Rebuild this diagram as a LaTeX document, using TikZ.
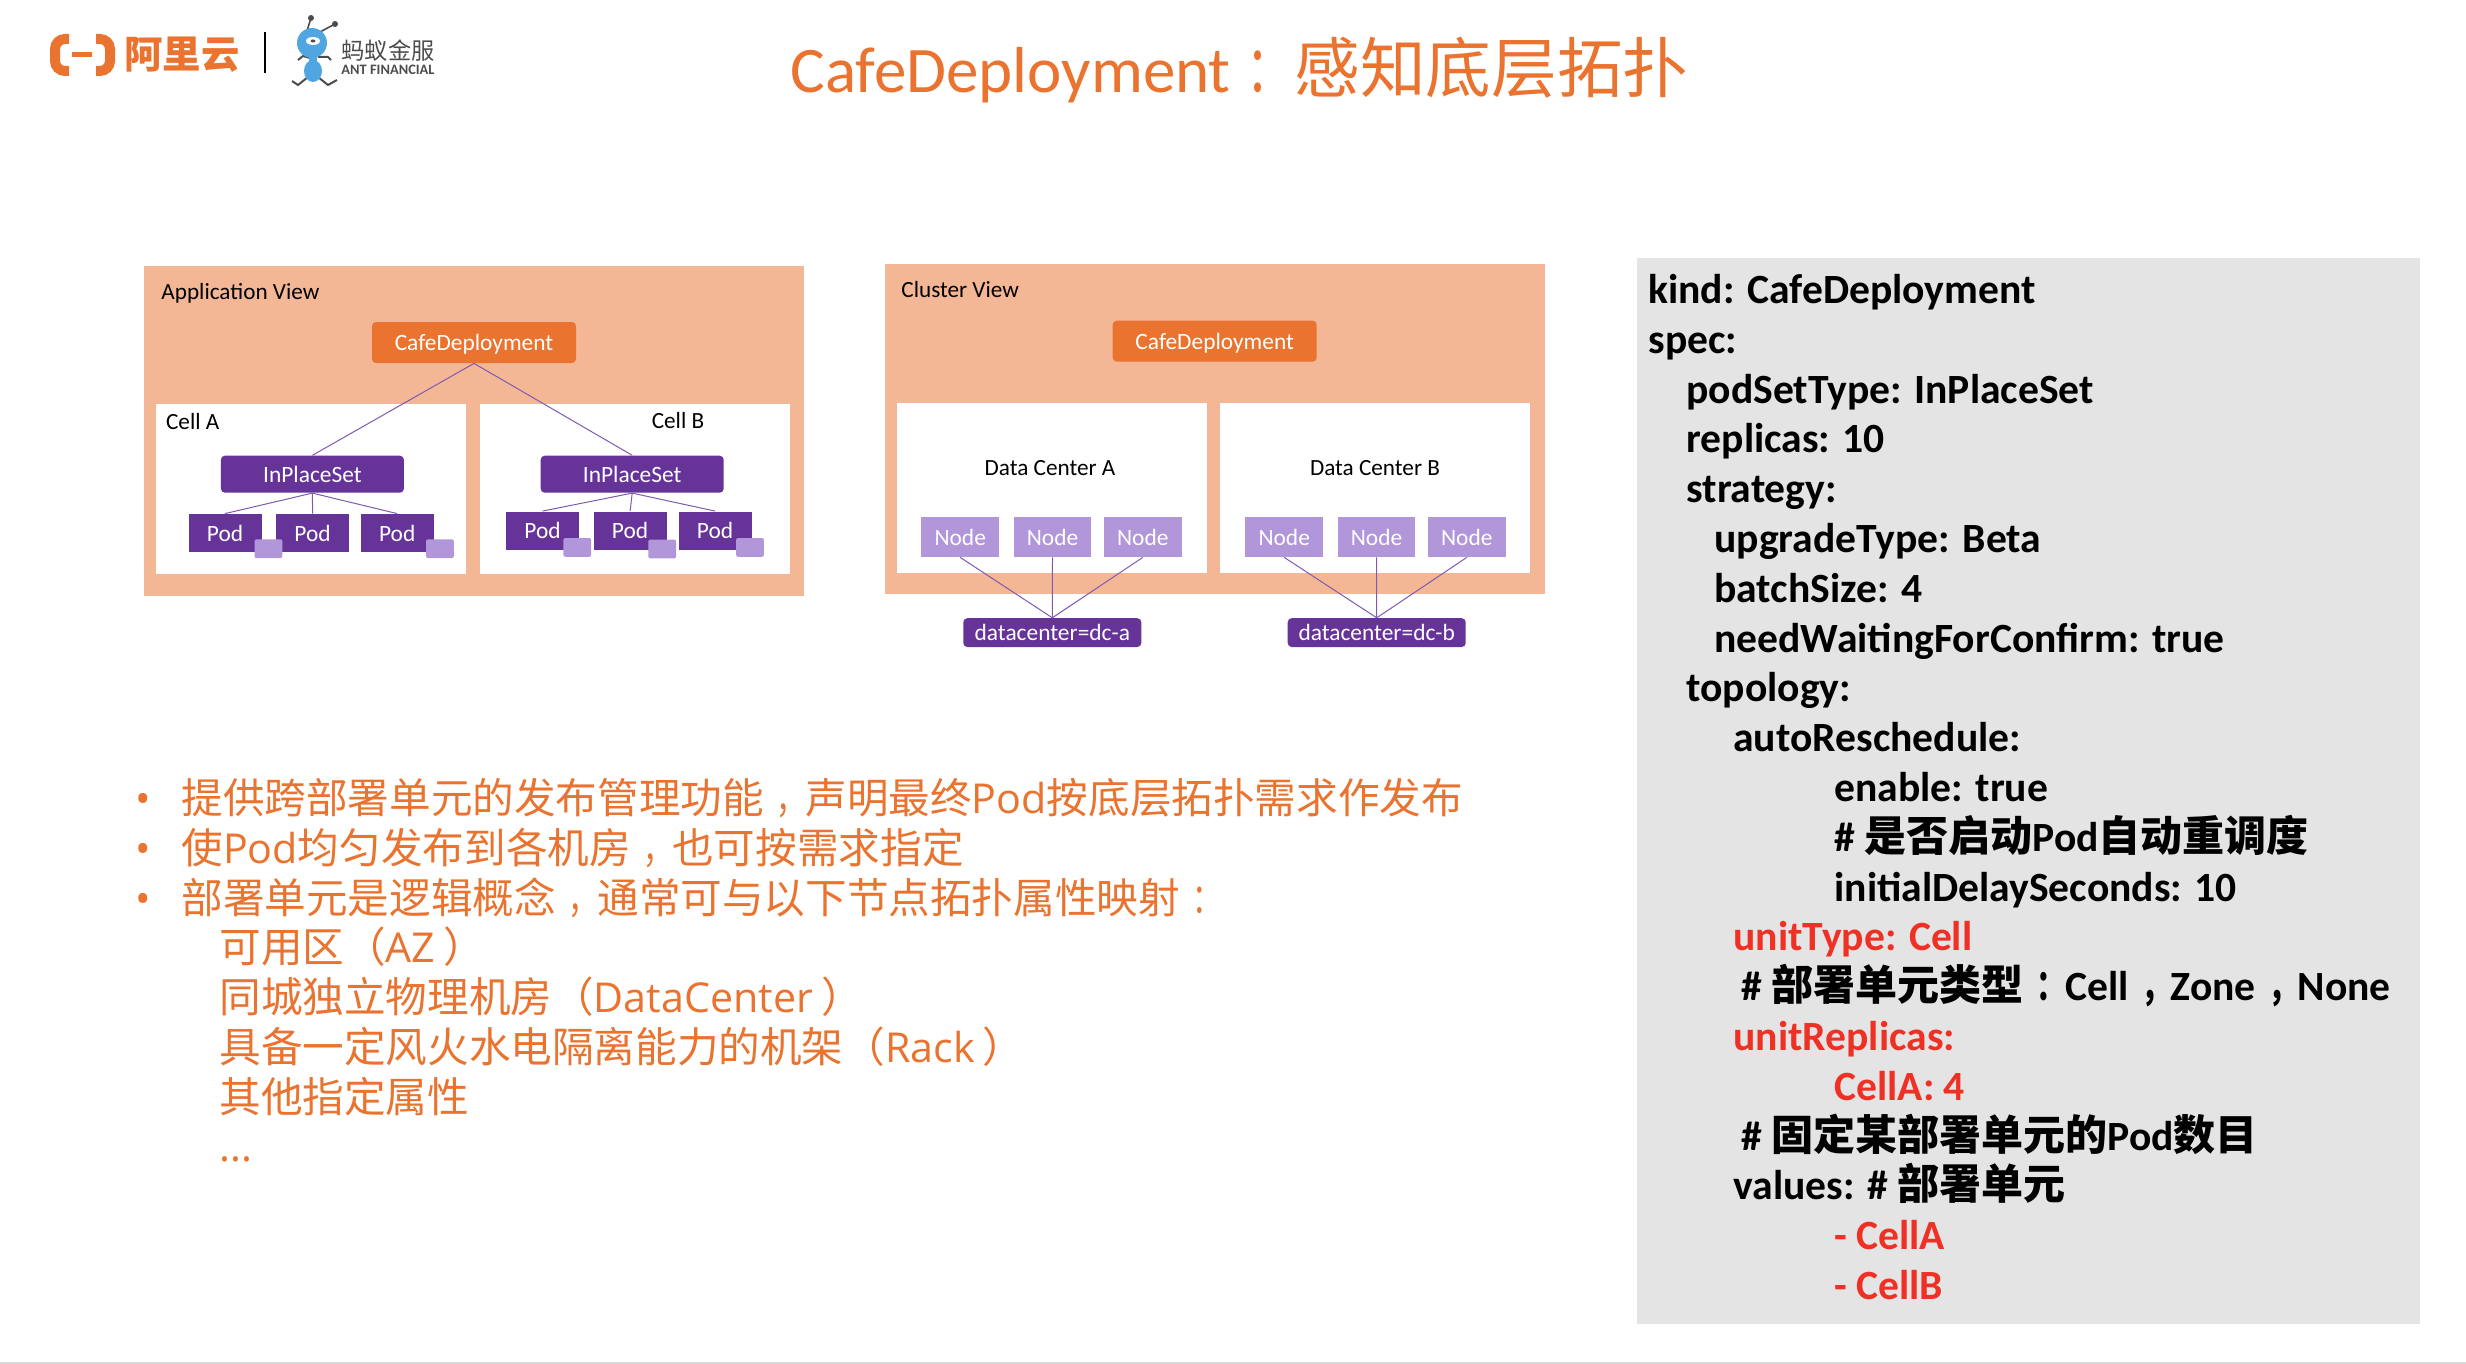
\documentclass[tikz,border=0pt]{standalone}
\usepackage{fontspec}
\setmainfont{Carlito}
\newfontfamily\cjk[Scale=1.01]{Noto Sans CJK SC}
\newfontfamily\cjkmark[Scale=1.01,FakeStretch=0.7]{Noto Sans CJK SC}
\newfontfamily\bulletlatin{Open Sans}
\usetikzlibrary{positioning}
\definecolor{cafeorange}{HTML}{E9732F}
\definecolor{panelorange}{HTML}{F3B795}
\definecolor{setpurple}{HTML}{663399}
\definecolor{softpurple}{HTML}{B197D9}
\definecolor{linkpurple}{HTML}{7E5BAF}
\definecolor{codegrey}{HTML}{E4E4E4}
\definecolor{codered}{HTML}{EE3124}
\definecolor{antblue}{HTML}{4FA6E0}
\newcommand{\zh}[1]{{\cjk #1}}
\newcommand{\zhmark}[1]{\hspace{.3em}{\cjkmark #1}}
\tikzset{
  panelbox/.style={fill=panelorange,inner sep=0pt,minimum width=330pt,minimum height=165pt},
  whitebox/.style={fill=white,inner sep=0pt,minimum width=155pt,minimum height=85pt},
  cafebox/.style={fill=cafeorange,rounded corners=2pt,inner sep=0pt,minimum width=102pt,
    minimum height=20.5pt,text=white,text height=10.5pt,text depth=2.5pt,font=\fontsize{11.7}{14}\selectfont},
  setbox/.style={fill=setpurple,rounded corners=2pt,inner sep=0pt,minimum width=91.5pt,
    minimum height=18.5pt,text=white,font=\fontsize{11.7}{14}\selectfont},
  podbox/.style={fill=setpurple,inner sep=0pt,minimum width=36.5pt,minimum height=19pt,
    text=white,font=\fontsize{11.7}{14}\selectfont},
  tagbox/.style={fill=softpurple,rounded corners=1pt,inner sep=0pt,minimum width=13.9pt,minimum height=9.4pt},
  nodebox/.style={fill=softpurple,inner sep=0pt,minimum width=38.75pt,minimum height=20pt,
    text=white,font=\fontsize{11.7}{14}\selectfont},
  dcbox/.style={fill=setpurple,rounded corners=2pt,inner sep=0pt,minimum width=89pt,
    minimum height=14.4pt,text=white,text height=10pt,text depth=2.5pt,font=\fontsize{11.7}{14}\selectfont},
  viewlabel/.style={inner sep=0pt,font=\fontsize{11.6}{14}\selectfont},
  link/.style={draw=linkpurple,line width=0.5pt},
  bullettext/.style={anchor=base west,inner sep=0pt,text=cafeorange,font=\bulletlatin\fontsize{20.6}{24}\selectfont},
  codeline/.style={anchor=base west,inner sep=0pt,font=\bfseries\fontsize{20.8}{24}\selectfont},
  coderedline/.style={codeline,text=codered}
}
\begin{document}
\begin{tikzpicture}[x=0.5pt,y=-0.5pt]
\useasboundingbox (0,0) rectangle (2466,1364);
\fill[black!15] (0,1362) rectangle (2466,1364);
% logos
\draw[cafeorange,line width=5pt,rounded corners=5pt] (69,39)--(55,39)--(55,71)--(69,71);
\draw[cafeorange,line width=5pt,rounded corners=5pt] (96,39)--(110,39)--(110,71)--(96,71);
\fill[cafeorange] (72,52.5) rectangle (92,57);
\node[inner sep=0pt,text=cafeorange,font=\cjk\bfseries\fontsize{19}{22}\selectfont] (aliyun) at (182,55) {阿里云};
\draw[black,line width=1pt] (264.5,32)--(264.5,73);
\draw[black!70,line width=0.8pt] (306,34)--(311,18);
\draw[black!70,line width=0.8pt] (320,32)--(335,24);
\fill[black!70] (311,18) circle (3) (335,24) circle (3);
\draw[black!70,line width=1pt] (310,58)--(303,56)--(298,60);
\draw[black!70,line width=1pt] (318,57)--(328,57)--(331,60);
\draw[black!70,line width=1pt] (308,77)--(298,85)--(292,81);
\draw[black!70,line width=1pt] (318,77)--(328,85)--(337,80);
\fill[antblue] (312,43) ellipse (15 and 15);
\fill[antblue] (309,50) rectangle (317,66);
\fill[antblue] (313,71) ellipse (9 and 11);
\fill[white] (313,41) ellipse (7 and 4);
\fill[black!70] (313,41) ellipse (2.5 and 1.5);
\node[inner sep=0pt,text=black!70,font=\cjk\fontsize{11.5}{13}\selectfont] (antzh) at (388,51) {蚂蚁金服};
\node[inner sep=0pt,text=black!70,font=\bfseries\fontsize{7.2}{8}\selectfont] (anten) at (388,70) {ANT FINANCIAL};
% title
\node[inner sep=0pt,anchor=base west,text=cafeorange,font=\fontsize{32.5}{38}\selectfont] (title) at (790,93)
  {CafeDeployment\hspace{8pt}{\cjkmark ：}\hspace{1pt}\zh{感知底层拓扑}};
% application view
\node[panelbox] (appview) at (474,430.7) {};
\node[whitebox] (cella) at (311,489.3) {};
\node[whitebox] (cellb) at (635.2,489.3) {};
\node[viewlabel,anchor=west] (applabel) at (161,293.5) {Application View};
\node[viewlabel,anchor=west] (cellalabel) at (165.7,421.7) {Cell A};
\node[viewlabel,anchor=west] (cellblabel) at (651.4,420.7) {Cell B};
\node[cafebox] (cafeapp) at (474,342.5) {CafeDeployment};
\node[setbox] (seta) at (312.4,474.2) {InPlaceSet};
\node[setbox] (setb) at (632.2,474.2) {InPlaceSet};
\node[podbox] (poda1) at (225,533) {Pod};
\node[podbox,right=6.9pt of poda1] (poda2) {Pod};
\node[podbox,right=5.4pt of poda2] (poda3) {Pod};
\node[podbox] (podb1) at (542.5,530.5) {Pod};
\node[podbox,right=6.9pt of podb1] (podb2) {Pod};
\node[podbox,right=5.6pt of podb2] (podb3) {Pod};
\node[tagbox] (taga1) at (268.4,548.7) {};
\node[tagbox] (taga3) at (439.9,548.7) {};
\node[tagbox] (tagb1) at (577.3,547.4) {};
\node[tagbox] (tagb2) at (662.2,549) {};
\node[tagbox] (tagb3) at (750,547.4) {};
\draw[link] (cafeapp.south)--(seta.north);
\draw[link] (cafeapp.south)--(setb.north);
\draw[link] (seta.south)--(poda1.north);
\draw[link] (seta.south)--(poda2.north);
\draw[link] (seta.south)--(poda3.north);
\draw[link] (setb.south)--(podb1.north);
\draw[link] (setb.south)--(podb2.north);
\draw[link] (setb.south)--(podb3.north);
% cluster view
\node[panelbox] (clusterview) at (1214.5,429.4) {};
\node[whitebox] (dca) at (1051.9,488.2) {};
\node[whitebox] (dcb) at (1375.1,488.2) {};
\node[viewlabel,anchor=west] (clusterlabel) at (901,290) {Cluster View};
\node[cafebox] (cafecluster) at (1214.7,341.2) {CafeDeployment};
\node[viewlabel] (dcalabel) at (1050,468) {Data Center A};
\node[viewlabel] (dcblabel) at (1375,468) {Data Center B};
\node[nodebox] (nodea1) at (960.2,537) {Node};
\node[nodebox,right=7pt of nodea1] (nodea2) {Node};
\node[nodebox,right=6pt of nodea2] (nodea3) {Node};
\node[nodebox] (nodeb1) at (1284.2,537) {Node};
\node[nodebox,right=7pt of nodeb1] (nodeb2) {Node};
\node[nodebox,right=6pt of nodeb2] (nodeb3) {Node};
\node[dcbox] (dctaga) at (1052.3,632.6) {datacenter=dc-a};
\node[dcbox] (dctagb) at (1376.7,632.6) {datacenter=dc-b};
\draw[link] (nodea1.south)--(dctaga.north);
\draw[link] (nodea2.south)--(dctaga.north);
\draw[link] (nodea3.south)--(dctaga.north);
\draw[link] (nodeb1.south)--(dctagb.north);
\draw[link] (nodeb2.south)--(dctagb.north);
\draw[link] (nodeb3.south)--(dctagb.north);
% bullets
\node[bullettext] (bullet1) at (135,813) {•};
\node[bullettext] (bullet2) at (135,863) {•};
\node[bullettext] (bullet3) at (135,913) {•};
\node[bullettext] (text1) at (181,813) {\zh{提供跨部署单元的发布管理功能}\zhmark{，}\zh{声明最终}Pod\zh{按底层拓扑需求作发布}};
\node[bullettext] (text2) at (181,863) {\zh{使}Pod\zh{均匀发布到各机房}\zhmark{，}\zh{也可按需求指定}};
\node[bullettext] (text3) at (181,913) {\zh{部署单元是逻辑概念}\zhmark{，}\zh{通常可与以下节点拓扑属性映射}\zhmark{：}};
\node[bullettext] (sub1) at (219,962) {\zh{可用区（}AZ\hspace{4pt}\zh{）}};
\node[bullettext] (sub2) at (219,1012.5) {\zh{同城独立物理机房（}DataCenter\hspace{4pt}\zh{）}};
\node[bullettext] (sub3) at (219,1062.5) {\zh{具备一定风火水电隔离能力的机架（}Rack\hspace{4pt}\zh{）}};
\node[bullettext] (sub4) at (219,1112.5) {\zh{其他指定属性}};
\node[bullettext] (sub5) at (219,1161) {...};
% yaml
\fill[codegrey] (1637,258) rectangle (2420,1324);
\node[codeline] (kind) at (1648,303) {kind: CafeDeployment};
\node[codeline] (spec) at (1648,353) {spec:};
\node[codeline] (podsettype) at (1686,403) {podSetType: InPlaceSet};
\node[codeline] (replicas) at (1686,452) {replicas: 10};
\node[codeline] (strategy) at (1686,502) {strategy:};
\node[codeline] (upgradetype) at (1714,552) {upgradeType: Beta};
\node[codeline] (batchsize) at (1714,602) {batchSize: 4};
\node[codeline] (needwaiting) at (1714,652) {needWaitingForConfirm: true};
\node[codeline] (topology) at (1686,701) {topology:};
\node[codeline] (autoresched) at (1733,751) {autoReschedule:};
\node[codeline] (enable) at (1834,801) {enable: true};
\node[codeline] (enablenote) at (1834,851) {\# \zh{是否启动}Pod\zh{自动重调度}};
\node[codeline] (initialdelay) at (1834,901) {initialDelaySeconds: 10};
\node[coderedline] (unittype) at (1733,950) {unitType: Cell};
\node[codeline] (unitnote) at (1741,1000) {\# \zh{部署单元类型}\zhmark{：}Cell\zhmark{，}Zone\zhmark{，}None};
\node[coderedline] (unitreplicas) at (1733,1050) {unitReplicas:};
\node[coderedline] (cellacount) at (1834,1100) {CellA: 4};
\node[codeline] (fixnote) at (1741,1150) {\# \zh{固定某部署单元的}Pod\zh{数目}};
\node[codeline] (values) at (1733,1199) {values: \# \zh{部署单元}};
\node[coderedline] (valuea) at (1834,1249) {- CellA};
\node[coderedline] (valueb) at (1834,1299) {- CellB};
\end{tikzpicture}
\end{document}
